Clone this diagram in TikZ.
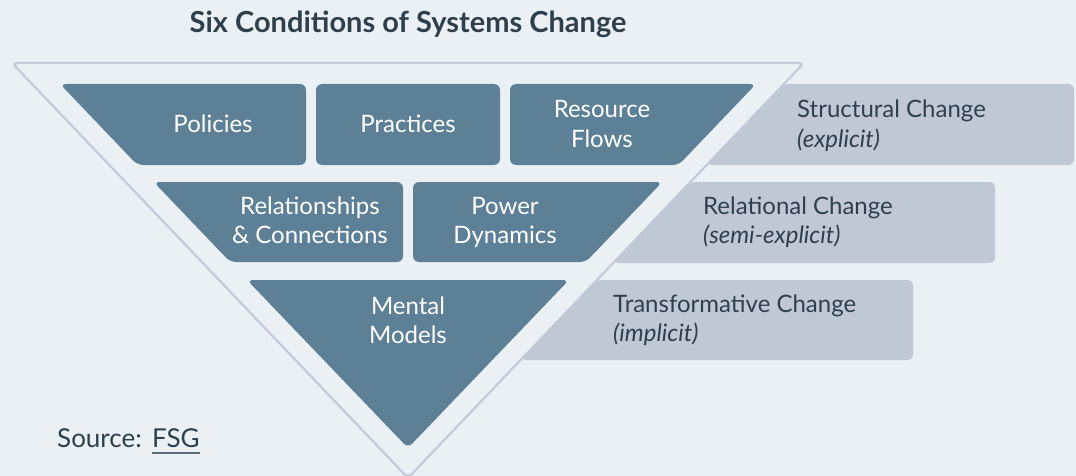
\documentclass[tikz,border=0pt]{standalone}
\usepackage{fontspec}
\setmainfont{Lato}
\definecolor{bg}{HTML}{EBF0F5}
\definecolor{slate}{HTML}{5D8096}
\definecolor{pale}{HTML}{C1C8D5}
\definecolor{rim}{HTML}{C4CAD8}
\definecolor{ink}{HTML}{2E404C}
\definecolor{linkline}{HTML}{5A6B78}
\begin{document}
\begin{tikzpicture}[x=1pt,y=-1pt,
  cond/.style={fill=slate, rounded corners=6pt},
  level/.style={fill=pale, rounded corners=5pt},
  intxt/.style={text=white, font=\fontsize{24}{29}\selectfont, align=center, anchor=base, inner sep=0pt},
  lvltxt/.style={text=ink, font=\fontsize{24}{29}\selectfont, align=left, anchor=base west, inner sep=0pt}]
\useasboundingbox (0,0) rectangle (1076,476);
\fill[bg] (0,0) rectangle (1076,476);
\clip (0,0) rectangle (1076,476);

% title
\node[text=ink, font=\fontsize{29}{32}\selectfont\bfseries, anchor=base, inner sep=0pt] (title) at (408,33) {Six Conditions of Systems Change};

% outer funnel outline
\draw[rim, line width=2.2pt, rounded corners=5pt] (12,63) -- (804,63) -- (408,478) -- cycle;

% levels of change
\fill[level] (784,84) -- (1074,84) -- (1074,165) -- (706.7,165) -- cycle;
\fill[level] (690.5,182) -- (995,182) -- (995,263) -- (613.2,263) -- cycle;
\fill[level] (597,280) -- (913,280) -- (913,360) -- (520.7,360) -- cycle;

% six conditions
\fill[cond] (60,84) -- (306,84) -- (306,165) -- (137.4,165) -- cycle;
\fill[cond] (316,84) -- (500,84) -- (500,165) -- (316,165) -- cycle;
\fill[cond] (510,84) -- (756,84) -- (678.6,165) -- (510,165) -- cycle;
\fill[cond] (153.7,182) -- (403,182) -- (403,262) -- (230.2,262) -- cycle;
\fill[cond] (413,182) -- (662.3,182) -- (585.8,262) -- (413,262) -- cycle;
\fill[cond] (247,280) -- (569,280) -- (408,448) -- cycle;

% labels (base anchor sits on the last line)
\node[intxt] (policies) at (213,133) {Policies};
\node[intxt] (practices) at (408,133) {Practices};
\node[intxt] (resource) at (602,147) {Resource\\Flows};
\node[intxt] (relations) at (310,243) {Relationships\\\& Connections};
\node[intxt] (power) at (505,243) {Power\\Dynamics};
\node[intxt] (mental) at (408,343) {Mental\\Models};

\node[lvltxt] (structural) at (797,147) {Structural Change\\\textit{(explicit)}};
\node[lvltxt] (relational) at (703,243) {Relational Change\\\textit{(semi-explicit)}};
\node[lvltxt] (transform) at (613,341) {Transformative Change\\\textit{(implicit)}};

% source line with underlined link text
\node[text=ink, font=\fontsize{26}{30}\selectfont, anchor=base west, inner sep=0pt] (source) at (57,447) {Source:};
\node[text=ink, font=\fontsize{26}{30}\selectfont, anchor=base west, inner sep=0pt] (fsg) at (152,447) {FSG};
\draw[linkline, line width=1.6pt] (fsg.base west) ++(0,6) coordinate (ulstart) -- (ulstart -| fsg.east);
\end{tikzpicture}
\end{document}
